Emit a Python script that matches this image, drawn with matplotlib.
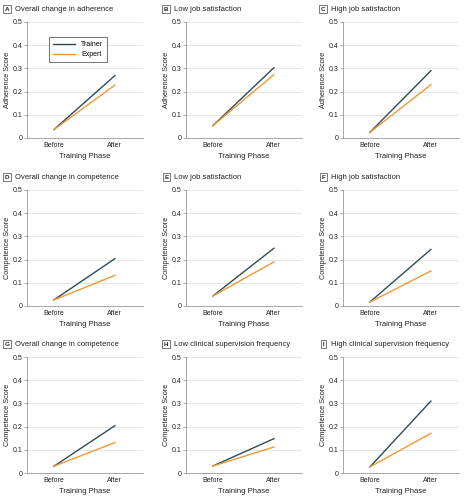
import matplotlib
matplotlib.use("Agg")
import matplotlib.pyplot as plt

plt.rcParams["font.family"] = ["Liberation Sans", "DejaVu Sans"]

# ============================================================
# Data
# ============================================================
PHASES = ["Before", "After"]
LETTERS = ["A", "B", "C", "D", "E", "F", "G", "H", "I"]
TITLES = [
    "Overall change in adherence", "Low job satisfaction", "High job satisfaction",
    "Overall change in competence", "Low job satisfaction", "High job satisfaction",
    "Overall change in competence", "Low clinical supervision frequency",
    "High clinical supervision frequency",
]
YLABELS = ["Adherence Score"] * 3 + ["Competence Score"] * 6
TRAINER = [
    [0.036, 0.269], [0.053, 0.303], [0.024, 0.290],
    [0.026, 0.204], [0.043, 0.249], [0.017, 0.244],
    [0.029, 0.204], [0.030, 0.148], [0.026, 0.310],
]
EXPERT = [
    [0.036, 0.228], [0.053, 0.273], [0.024, 0.230],
    [0.026, 0.132], [0.043, 0.190], [0.017, 0.151],
    [0.029, 0.131], [0.030, 0.112], [0.026, 0.171],
]
YTICKS = [0, 0.1, 0.2, 0.3, 0.4, 0.5]
YTICKLABELS = ["0", "0.1", "0.2", "0.3", "0.4", "0.5"]

TRAINER_COLOR = "#2f4b57"
EXPERT_COLOR = "#ec9a36"

W, H = 467, 498
fig = plt.figure(figsize=(W / 100, H / 100), dpi=100)

col_left = [27, 186, 343]
row_top = [22, 190, 357]
ax_w, ax_h = 116, 116

for i in range(9):
    r, c = divmod(i, 3)
    left = col_left[c] / W
    bottom = 1 - (row_top[r] + ax_h) / H
    ax = fig.add_axes([left, bottom, ax_w / W, ax_h / H])

    ax.plot([0, 1], TRAINER[i], color=TRAINER_COLOR, lw=1.0, label="Trainer")
    ax.plot([0, 1], EXPERT[i], color=EXPERT_COLOR, lw=1.0, label="Expert")

    ax.set_xlim(-0.44, 1.46)
    ax.set_ylim(0, 0.5)
    ax.set_xticks([0, 1])
    ax.set_xticklabels(PHASES, fontsize=5)
    ax.set_yticks(YTICKS)
    ax.set_yticklabels(YTICKLABELS, fontsize=5)
    ax.tick_params(axis="both", length=2, width=0.5, color="#888888", pad=1.5,
                   labelcolor="#222222")
    ax.tick_params(axis="x", length=0, pad=3)
    ax.grid(axis="y", color="#e2e2e2", lw=0.6)
    ax.set_axisbelow(True)
    for s in ["top", "right"]:
        ax.spines[s].set_visible(False)
    for s in ["left", "bottom"]:
        ax.spines[s].set_color("#999999")
        ax.spines[s].set_linewidth(0.6)

    ax.set_xlabel("Training Phase", fontsize=5.5, labelpad=3, color="#222222")
    ax.set_ylabel(YLABELS[i], fontsize=5.3, labelpad=1, color="#222222")

    # panel letter in a small box, then the title
    ax.text(-0.17, 1.11, LETTERS[i], transform=ax.transAxes, fontsize=4.5,
            fontweight="bold", ha="center", va="center", color="#222222",
            bbox=dict(boxstyle="square,pad=0.25", fc="white", ec="#444444", lw=0.5))
    ax.text(-0.1, 1.11, TITLES[i], transform=ax.transAxes, fontsize=5.5,
            ha="left", va="center", color="#222222")

    if i == 0:
        leg = ax.legend(loc="upper left", bbox_to_anchor=(0.16, 0.90), fontsize=5,
                        frameon=True, fancybox=False, handlelength=3.2,
                        borderpad=0.6, labelspacing=0.4, handletextpad=0.8)
        leg.get_frame().set_edgecolor("#333333")
        leg.get_frame().set_linewidth(0.6)

fig.savefig("out.png", dpi=100, facecolor="white")
